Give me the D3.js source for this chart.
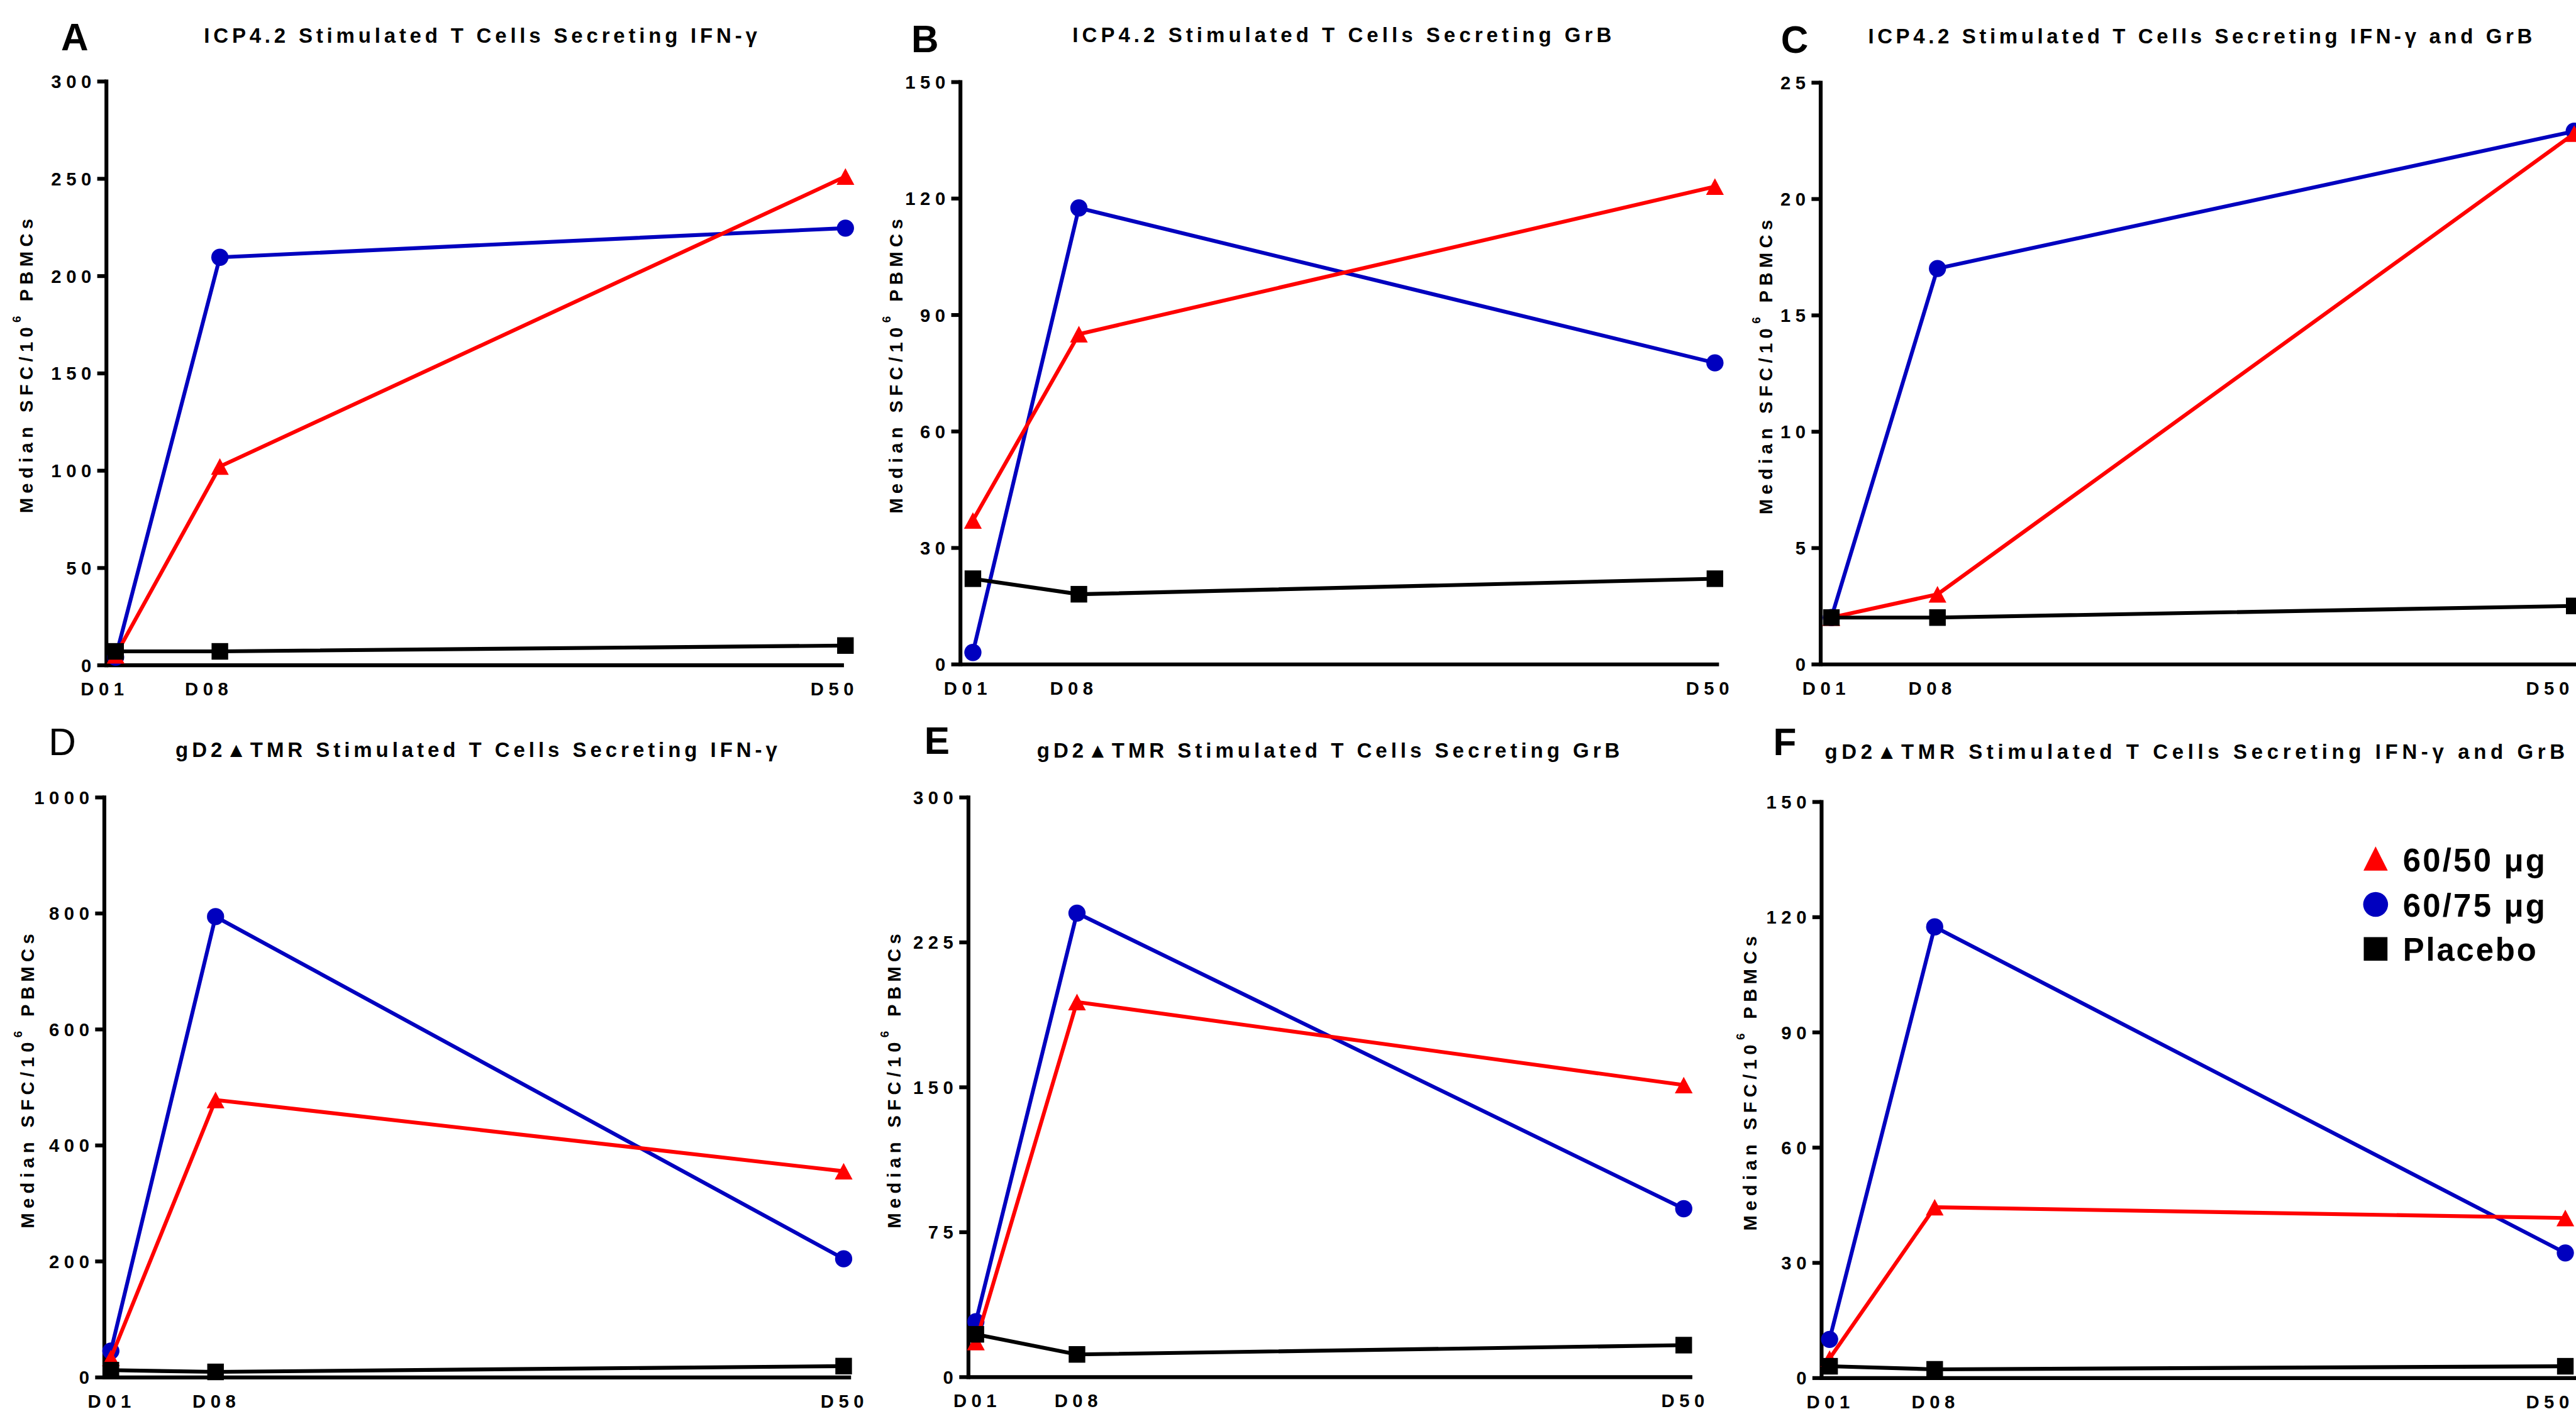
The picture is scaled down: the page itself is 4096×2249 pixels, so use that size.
<!DOCTYPE html>
<html><head><meta charset="utf-8">
<script src="https://cdn.jsdelivr.net/npm/d3@7"></script>
<style>html,body{margin:0;padding:0;background:#fff;overflow:hidden}</style>
</head><body>
<svg id="chart" width="4096" height="2249"></svg>
<script>
// ---------------- data ----------------
const days = [1, 8, 50];
const dayLabels = ["D01", "D08", "D50"];
const seriesNames = ["60/50 μg", "60/75 μg", "Placebo"];
const panelLetters = ["A", "B", "C", "D", "E", "F"];
const panelTitles = [
  "ICP4.2 Stimulated T Cells Secreting IFN-γ",
  "ICP4.2 Stimulated T Cells Secreting GrB",
  "ICP4.2 Stimulated T Cells Secreting IFN-γ and GrB",
  "gD2▲TMR Stimulated T Cells Secreting IFN-γ",
  "gD2▲TMR Stimulated T Cells Secreting GrB",
  "gD2▲TMR Stimulated T Cells Secreting IFN-γ and GrB"
];
const yMaxima = [300, 150, 25, 1000, 300, 150];
const yTickSteps = [50, 30, 5, 200, 75, 30];
const dose6050 = [[5, 102, 251], [37, 85, 123], [2, 3, 22.8], [33, 478, 355], [18, 194, 151], [5, 44.4, 41.6]];
const dose6075 = [[4, 209.5, 224.5], [3, 117.5, 77.6], [2, 17, 22.9], [45, 794, 204], [28.5, 240, 87], [10, 117.4, 32.5]];
const placebo  = [[7, 7, 10], [22, 18, 22], [2, 2, 2.5], [12, 9, 19], [22, 11.6, 16.4], [3, 2.2, 3]];

// ---------------- layout (reference pixel space) ----------------
const layout = [
  {ax:179,   y0:1122,   yT:137,    x1:195,  x50:1426,   xEnd:1423, lblDx:-23, title:[344,1277,72],    letter:[103,85],    lw:"bold",   yt:[55,617.5]},
  {ax:1619.5,y0:1120.5, yT:138,    x1:1641, x50:2892.6, xEnd:2899, lblDx:-13, title:[1809,2718,71],   letter:[1537,88],   lw:"bold",   yt:[1522,618]},
  {ax:3070.5,y0:1120.5, yT:139,    x1:3089, x50:4342,   xEnd:4420, lblDx:-13, title:[3151,4271,73],   letter:[3004,89],   lw:"bold",   yt:[2989,619.5]},
  {ax:175.5, y0:2323.5, yT:1345,   x1:187,  x50:1423,   xEnd:1435, lblDx:-3,  title:[296,1311,1277],  letter:[82,1274],   lw:"normal", yt:[57,1824]},
  {ax:1633,  y0:2323,   yT:1345,   x1:1646, x50:2840,   xEnd:2854, lblDx:-2,  title:[1749,2732,1278], letter:[1559,1272], lw:"bold",   yt:[1519,1824]},
  {ax:3072,  y0:2324.6, yT:1352.6, x1:3086, x50:4327,   xEnd:4420, lblDx:-3,  title:[3078,4326,1280], letter:[2991,1274], lw:"bold",   yt:[2963,1828]}
];
const RED = "#ff0000", BLUE = "#0000bf", BLACK = "#000000";
const FONT = "'Liberation Sans', Arial, Helvetica, sans-serif";
const REF_W = 4345;
const SCALE = 4096 / REF_W;

const svg = d3.select("#chart");
const root = svg.append("g").attr("transform", `scale(${SCALE})`);

// custom bbox-centred triangle
function triType(w, h) {
  return { draw(ctx) { ctx.moveTo(0, -h/2); ctx.lineTo(w/2, h/2); ctx.lineTo(-w/2, h/2); ctx.closePath(); } };
}

layout.forEach((p, i) => {
  const g = root.append("g");
  const x = d3.scaleLinear().domain([1, 50]).range([p.x1, p.x50]);
  const y = d3.scaleLinear().domain([0, yMaxima[i]]).range([p.y0, p.yT]);

  // Y axis
  const ticks = d3.range(0, yMaxima[i] + 1e-9, yTickSteps[i]);
  const yg = g.append("g").attr("transform", `translate(${p.ax},0)`)
    .call(d3.axisLeft(y).tickValues(ticks).tickSize(15).tickSizeOuter(0).tickFormat(d3.format("d")));
  yg.attr("font-family", FONT).attr("font-size", 31);
  yg.select(".domain").attr("stroke", BLACK).attr("stroke-width", 6.5).attr("stroke-linecap", "square");
  yg.selectAll(".tick line").attr("stroke", BLACK).attr("stroke-width", 6.5);
  yg.selectAll(".tick text").attr("x", -25 + 8).attr("dy", "0.36em")
    .attr("font-weight", "bold").attr("letter-spacing", 8).attr("fill", BLACK);

  // X axis
  const xa = x.copy().domain([x.invert(p.ax), x.invert(p.xEnd)]).range([p.ax, p.xEnd]);
  const xg = g.append("g").attr("transform", `translate(0,${p.y0})`)
    .call(d3.axisBottom(xa).tickValues(days).tickSize(0).tickSizeOuter(0)
      .tickFormat(d => dayLabels[days.indexOf(d)]));
  xg.attr("font-family", FONT).attr("font-size", 31);
  xg.select(".domain").attr("stroke", BLACK).attr("stroke-width", 6.5);
  xg.selectAll(".tick").each(function(d) {
    const txt = d3.select(this).select("text")
      .attr("y", 51.5).attr("dy", 0).attr("dx", p.lblDx + 4)
      .attr("font-weight", "bold").attr("letter-spacing", 8).attr("fill", BLACK);
    // keep label inside the picture's right edge
    const bb = txt.node().getBBox();
    const right = xa(d) + bb.x + bb.width;
    if (right > REF_W - 4) txt.attr("dx", p.lblDx + 4 - (right - (REF_W - 4)));
  });

  // Y axis title
  const t = g.append("text")
    .attr("transform", `translate(${p.yt[0]},${p.yt[1]}) rotate(-90)`)
    .attr("text-anchor", "middle").attr("font-family", FONT).attr("font-size", 31)
    .attr("font-weight", "bold").attr("textLength", 497).attr("lengthAdjust", "spacing")
    .style("white-space", "pre");
  t.append("tspan").text("Median SFC/10");
  t.append("tspan").attr("dy", -20).attr("font-size", 20).text("6");
  t.append("tspan").attr("dy", 20).text(" PBMCs");

  // Title
  g.append("text").attr("x", p.title[0]).attr("y", p.title[2])
    .attr("font-family", FONT).attr("font-size", 35).attr("font-weight", "bold")
    .attr("textLength", p.title[1] - p.title[0]).attr("lengthAdjust", "spacing")
    .text(panelTitles[i]);

  // Panel letter
  g.append("text").attr("x", p.letter[0]).attr("y", p.letter[1])
    .attr("font-family", FONT).attr("font-size", 64).attr("font-weight", p.lw)
    .text(panelLetters[i]);

  // Series
  const series = [
    {vals: dose6075[i], color: BLUE,  type: d3.symbolCircle, size: Math.PI * 14.5 * 14.5},
    {vals: dose6050[i], color: RED,   type: triType(30, 28), size: 1},
    {vals: placebo[i],  color: BLACK, type: d3.symbolSquare, size: 28 * 28}
  ];
  const line = d3.line().x((d, j) => x(days[j])).y(d => y(d));
  series.forEach(s => {
    g.append("path").datum(s.vals).attr("d", line)
      .attr("fill", "none").attr("stroke", s.color).attr("stroke-width", 6.5)
      .attr("stroke-linejoin", "round");
    g.selectAll(null).data(s.vals).enter().append("path")
      .attr("transform", (d, j) => `translate(${x(days[j])},${y(d)})`)
      .attr("d", d3.symbol().type(s.type).size(s.size))
      .attr("fill", s.color);
  });
});

// Legend
const legendItems = [
  {name: seriesNames[0], color: RED,   type: triType(41, 41), size: 1, cy: 1448.5, by: 1470, w: 240},
  {name: seriesNames[1], color: BLUE,  type: d3.symbolCircle, size: Math.PI * 21 * 21, cy: 1526, by: 1547, w: 240},
  {name: seriesNames[2], color: BLACK, type: d3.symbolSquare, size: 40 * 40, cy: 1601, by: 1621, w: 225}
];
const lg = root.append("g");
legendItems.forEach(it => {
  lg.append("path").attr("transform", `translate(4007,${it.cy})`)
    .attr("d", d3.symbol().type(it.type).size(it.size)).attr("fill", it.color);
  lg.append("text").attr("x", 4053).attr("y", it.by)
    .attr("font-family", FONT).attr("font-size", 54).attr("font-weight", "bold")
    .attr("textLength", it.w).attr("lengthAdjust", "spacing").text(it.name);
});
</script>
</body></html>
